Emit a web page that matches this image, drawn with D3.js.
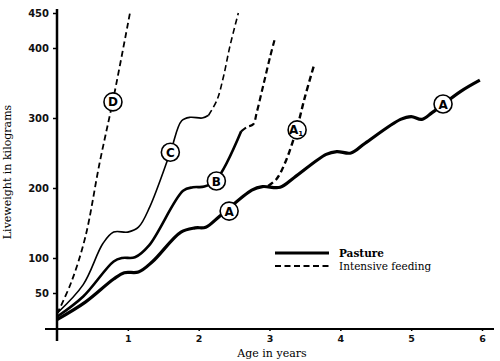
<!DOCTYPE html>
<html>
<head>
<meta charset="utf-8">
<script src="https://cdn.jsdelivr.net/npm/d3@7"></script>
<style>
  body { margin: 0; background: #fff; }
  svg { display: block; }
</style>
</head>
<body>
<svg id="chart" width="500" height="361" viewBox="0 0 500 361"></svg>
<script>
// age in years, liveweight in kg
const pastureA = [[0,12],[0.4,37],[0.8,70],[0.95,79],[1.15,80],[1.35,95],[1.75,137],[1.95,143],[2.1,144],
  [2.3,160],[2.75,197],[2.9,202],[3.15,201],[3.35,215],[3.8,248],[3.95,252],[4.15,250],[4.35,264],
  [4.85,298],[5.0,302],[5.15,298],[5.3,308],[5.7,338],[5.97,354]]
const pastureB = [[0,16],[0.37,45],[0.8,95],[0.92,100],[1.1,101],[1.3,118],[1.78,196],[1.92,201],[2.08,202],[2.25,212],[2.6,281]]
const pastureC = [[0,21],[0.37,62],[0.65,121],[0.8,137],[1.0,137],[1.15,144],[1.31,173],[1.6,251],[1.76,296],[1.88,301],[2.05,300],[2.14,304]]
const feedB = [[2.6,281],[2.68,287],[2.77,291],[2.82,308],[2.92,350],[3.01,388],[3.07,411]]
const feedC = [[2.14,304],[2.26,326],[2.35,359],[2.44,402],[2.56,450]]
const feedD = [[0,20],[0.2,65],[0.4,130],[0.6,235],[0.8,330],[1.03,450]]
const feedA1 = [[2.98,203],[3.1,213],[3.22,236],[3.38,283],[3.5,330],[3.63,376]]

const yTicks = [50,100,200,300,400,450]
const xTicks = [1,2,3,4,5,6]

const labels = [
  {t:"D", x:0.79, y:323}, {t:"C", x:1.6, y:251}, {t:"B", x:2.25, y:210},
  {t:"A", x:2.43, y:167}, {t:"A", sub:"1", x:3.39, y:283}, {t:"A", x:5.45, y:320}
]

const svg = d3.select("#chart")
const x = d3.scaleLinear().domain([0,6]).range([57,482])
const y = d3.scaleLinear().domain([0,450]).range([328,13])

// axes
const yAxis = svg.append("g")
    .attr("transform","translate(57,0)")
    .call(d3.axisLeft(y).tickValues(yTicks).tickSize(4).tickPadding(4))
yAxis.select(".domain").remove()
yAxis.selectAll("line").attr("stroke","#000").attr("stroke-width",1.5)
yAxis.selectAll("text").attr("font-family","DejaVu Sans").attr("font-weight","bold").attr("font-size",10).attr("fill","#111")

const xAxis = svg.append("g")
    .attr("transform","translate(0,329)")
    .call(d3.axisBottom(x).tickValues(xTicks).tickSize(2).tickPadding(4).tickFormat(d3.format("d")))
xAxis.select(".domain").remove()
xAxis.selectAll("line").attr("stroke","#000").attr("stroke-width",1.5)
xAxis.selectAll("text").attr("font-family","DejaVu Sans").attr("font-weight","bold").attr("font-size",9.5).attr("fill","#111")

svg.append("line").attr("x1",45).attr("x2",494).attr("y1",329).attr("y2",329)
    .attr("stroke","#000").attr("stroke-width",2.2)
svg.append("line").attr("x1",57).attr("x2",57).attr("y1",9).attr("y2",341)
    .attr("stroke","#000").attr("stroke-width",2.5)

svg.append("text").attr("x",272).attr("y",357).attr("text-anchor","middle")
    .attr("font-family","DejaVu Serif").attr("font-size",11).text("Age in years")
svg.append("text").attr("transform","translate(11,172) rotate(-90)").attr("text-anchor","middle")
    .attr("font-family","DejaVu Serif").attr("font-size",11).text("Liveweight in kilograms")

// curves
const line = d3.line().x(d=>x(d[0])).y(d=>y(d[1])).curve(d3.curveCatmullRom.alpha(0.5))

const series = [
  {d:pastureA, w:3.2, dash:null},
  {d:pastureB, w:2.6, dash:null},
  {d:pastureC, w:1.6, dash:null},
  {d:feedB, w:2.2, dash:"6,3.5"},
  {d:feedC, w:1.6, dash:"6,3.5"},
  {d:feedD, w:1.8, dash:"6,3.5"},
  {d:feedA1, w:2.4, dash:"6,3.5"}
]
svg.append("g").selectAll("path").data(series).enter().append("path")
    .attr("d",s=>line(s.d))
    .attr("fill","none").attr("stroke","#000")
    .attr("stroke-width",s=>s.w)
    .attr("stroke-dasharray",s=>s.dash)

// circled labels
const lab = svg.append("g").selectAll("g").data(labels).enter().append("g")
    .attr("transform",d=>`translate(${x(d.x)},${y(d.y)})`)
lab.append("circle").attr("r",9).attr("fill","#fff").attr("stroke","#000").attr("stroke-width",1.6)
const lt = lab.append("text").attr("text-anchor","middle").attr("y",4.5)
    .attr("font-family","DejaVu Sans").attr("font-weight","bold").attr("font-size",12)
lt.append("tspan").attr("dx",d=>d.sub?-1:0).text(d=>d.t)
lt.filter(d=>d.sub).append("tspan").attr("font-size",7).attr("dy",2).text(d=>d.sub)

// legend
const legend = svg.append("g")
legend.append("line").attr("x1",275).attr("x2",329).attr("y1",253).attr("y2",253)
    .attr("stroke","#000").attr("stroke-width",2.8)
legend.append("line").attr("x1",275).attr("x2",329).attr("y1",266).attr("y2",266)
    .attr("stroke","#000").attr("stroke-width",1.8).attr("stroke-dasharray","6,3.5")
legend.append("text").attr("x",339).attr("y",257).attr("font-family","DejaVu Serif")
    .attr("font-weight","bold").attr("font-size",10.5).text("Pasture")
legend.append("text").attr("x",339).attr("y",270).attr("font-family","DejaVu Serif")
    .attr("font-size",10.5).text("Intensive feeding")
</script>
</body>
</html>
